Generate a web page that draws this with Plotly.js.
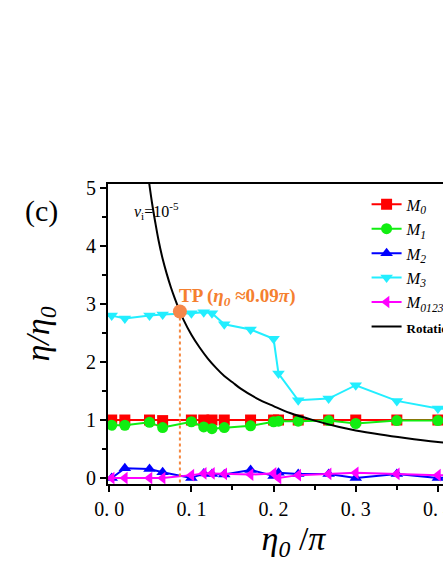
<!DOCTYPE html>
<html>
<head>
<meta charset="utf-8">
<script src="https://cdn.plot.ly/plotly-3.0.1.min.js"></script>
<style>
  body { margin: 0; overflow: hidden; background: #fff; }
  #chart { width: 500px; height: 573px; }
</style>
</head>
<body>
<div id="chart"></div>
<script>
// eta0/pi sample positions shared by the measured series
var eta0 = [0.003, 0.019, 0.049, 0.065, 0.1, 0.115, 0.125, 0.14, 0.172, 0.2, 0.206, 0.23, 0.267, 0.3, 0.35, 0.4, 0.45];

var m0 = [1.0, 1.0, 1.0, 0.99, 1.0, 1.0, 1.0, 1.0, 1.0, 1.0, 1.0, 1.0, 1.0, 1.0, 1.0, 1.0, 1.0];
var m1 = [0.91, 0.91, 0.96, 0.87, 0.97, 0.88, 0.85, 0.87, 0.9, 0.97, 0.98, 0.98, 0.99, 0.94, 0.99, 0.99, 0.99];
var m2 = [0.0, 0.17, 0.155, 0.1, 0.0, 0.08, 0.07, 0.06, 0.14, 0.035, 0.09, 0.07, 0.07, 0.0, 0.07, 0.0, 0.03];
var m3 = [2.8, 2.75, 2.8, 2.82, 2.84, 2.86, 2.84, 2.65, 2.56, 2.4, 1.8, 1.34, 1.37, 1.6, 1.33, 1.2, 1.15];
var m0123 = [0.0, 0.0, 0.0, 0.0, 0.05, 0.08, 0.08, 0.07, 0.06, 0.08, 0.0, 0.05, 0.07, 0.09, 0.07, 0.05, 0.05];

// rotation curve
var rotX = [0.048, 0.052, 0.056, 0.06, 0.065, 0.07, 0.075, 0.08, 0.086, 0.09, 0.1, 0.11, 0.12, 0.13, 0.14, 0.15, 0.16, 0.18, 0.2, 0.22, 0.25, 0.28, 0.3, 0.33, 0.36, 0.4, 0.45];
var rotY = [5.15, 4.75, 4.41, 4.1, 3.78, 3.52, 3.29, 3.09, 2.87, 2.74, 2.47, 2.25, 2.06, 1.9, 1.76, 1.65, 1.54, 1.37, 1.24, 1.12, 0.99, 0.88, 0.82, 0.75, 0.69, 0.62, 0.55];

// turning point
var tpX = [0.086];
var tpY = [2.87];

var xTicks = [0, 0.1, 0.2, 0.3, 0.4];
var xTickText = ["0. 0", "0. 1", "0. 2", "0. 3", "0. 4"];
var yTicks = [0, 1, 2, 3, 4, 5];

var serif = "'Liberation Serif', 'Times New Roman', serif";

function series(y, name, color, symbol) {
  return {
    x: eta0, y: y, name: name, type: "scatter", mode: "lines+markers",
    line: {color: color, width: 2},
    marker: {color: color, symbol: symbol, size: 11}
  };
}

var data = [
  series(m0, "<i>M<sub>0</sub></i>", "#ff0000", "square"),
  series(m1, "<i>M<sub>1</sub></i>", "#11ee11", "circle"),
  series(m2, "<i>M<sub>2</sub></i>", "#0000ff", "triangle-up"),
  series(m3, "<i>M<sub>3</sub></i>", "#22eeff", "triangle-down"),
  series(m0123, "<i>M<sub>0123</sub></i>", "#ff00ff", "triangle-left"),
  {
    x: rotX, y: rotY, name: "<b><span style='font-size:13px'>Rotation</span></b>",
    type: "scatter", mode: "lines", line: {color: "#000", width: 2, shape: "spline"}
  },
  {
    x: [tpX[0], tpX[0]], y: [tpY[0], -0.1], type: "scatter", mode: "lines",
    line: {color: "#f5873f", width: 2, dash: "dot"}, showlegend: false, hoverinfo: "skip"
  },
  {
    x: tpX, y: tpY, type: "scatter", mode: "markers", showlegend: false,
    marker: {color: "#f5874a", size: 14}
  }
];

var layout = {
  width: 500, height: 573,
  margin: {l: 108, r: 21, t: 184, b: 89},
  paper_bgcolor: "#fff", plot_bgcolor: "#fff",
  font: {family: serif, color: "#000", size: 19},
  showlegend: true,
  legend: {
    x: 0.697, y: 0.99, xanchor: "left", yanchor: "top",
    bgcolor: "rgba(0,0,0,0)", font: {family: serif, size: 16.5},
    itemwidth: 30, tracegroupgap: 0
  },
  xaxis: {
    range: [-0.0015, 0.45],
    tickmode: "array", tickvals: xTicks, ticktext: xTickText,
    ticks: "outside", ticklen: 6, tickwidth: 2, tickcolor: "#000",
    minor: {tickmode: "array", tickvals: [0.05, 0.15, 0.25, 0.35], ticks: "outside", ticklen: 4, tickwidth: 2, tickcolor: "#000"},
    showline: true, linewidth: 2, linecolor: "#000", mirror: true,
    showgrid: false, zeroline: false,
    tickfont: {family: serif, size: 20},
    title: {text: "<i>η<sub>0</sub></i> /<i>π</i>", font: {family: serif, size: 34}, standoff: 4}
  },
  yaxis: {
    range: [-0.103, 5.069],
    tickmode: "array", tickvals: yTicks,
    ticks: "outside", ticklen: 6, tickwidth: 2, tickcolor: "#000",
    minor: {tickmode: "array", tickvals: [0.5, 1.5, 2.5, 3.5, 4.5], ticks: "outside", ticklen: 4, tickwidth: 2, tickcolor: "#000"},
    showline: true, linewidth: 2, linecolor: "#000", mirror: true,
    showgrid: false, zeroline: false,
    tickfont: {family: serif, size: 20},
    title: {text: "<i>η/η<sub>0</sub></i>", font: {family: serif, size: 34}, standoff: 26}
  },
  annotations: [
    {
      text: "(c)", xref: "paper", yref: "paper", x: -0.18, y: 0.91,
      xanchor: "center", yanchor: "middle", showarrow: false,
      font: {family: serif, size: 30, color: "#000"}
    },
    {
      text: "<i>ν</i><sub>i</sub>=10<sup>-5</sup>", xref: "paper", yref: "paper", x: 0.066, y: 0.91,
      xanchor: "left", yanchor: "middle", showarrow: false,
      font: {family: serif, size: 16, color: "#000"}
    },
    {
      text: "<b>TP (<i>η<sub>0</sub></i> ≈0.09<i>π</i>)</b>", xref: "x", yref: "y", x: 0.082, y: 3.12,
      xanchor: "left", yanchor: "middle", showarrow: false,
      font: {family: serif, size: 19, color: "#f5802f"}
    }
  ]
};

Plotly.newPlot("chart", data, layout, {displayModeBar: false, responsive: false});
</script>
</body>
</html>
